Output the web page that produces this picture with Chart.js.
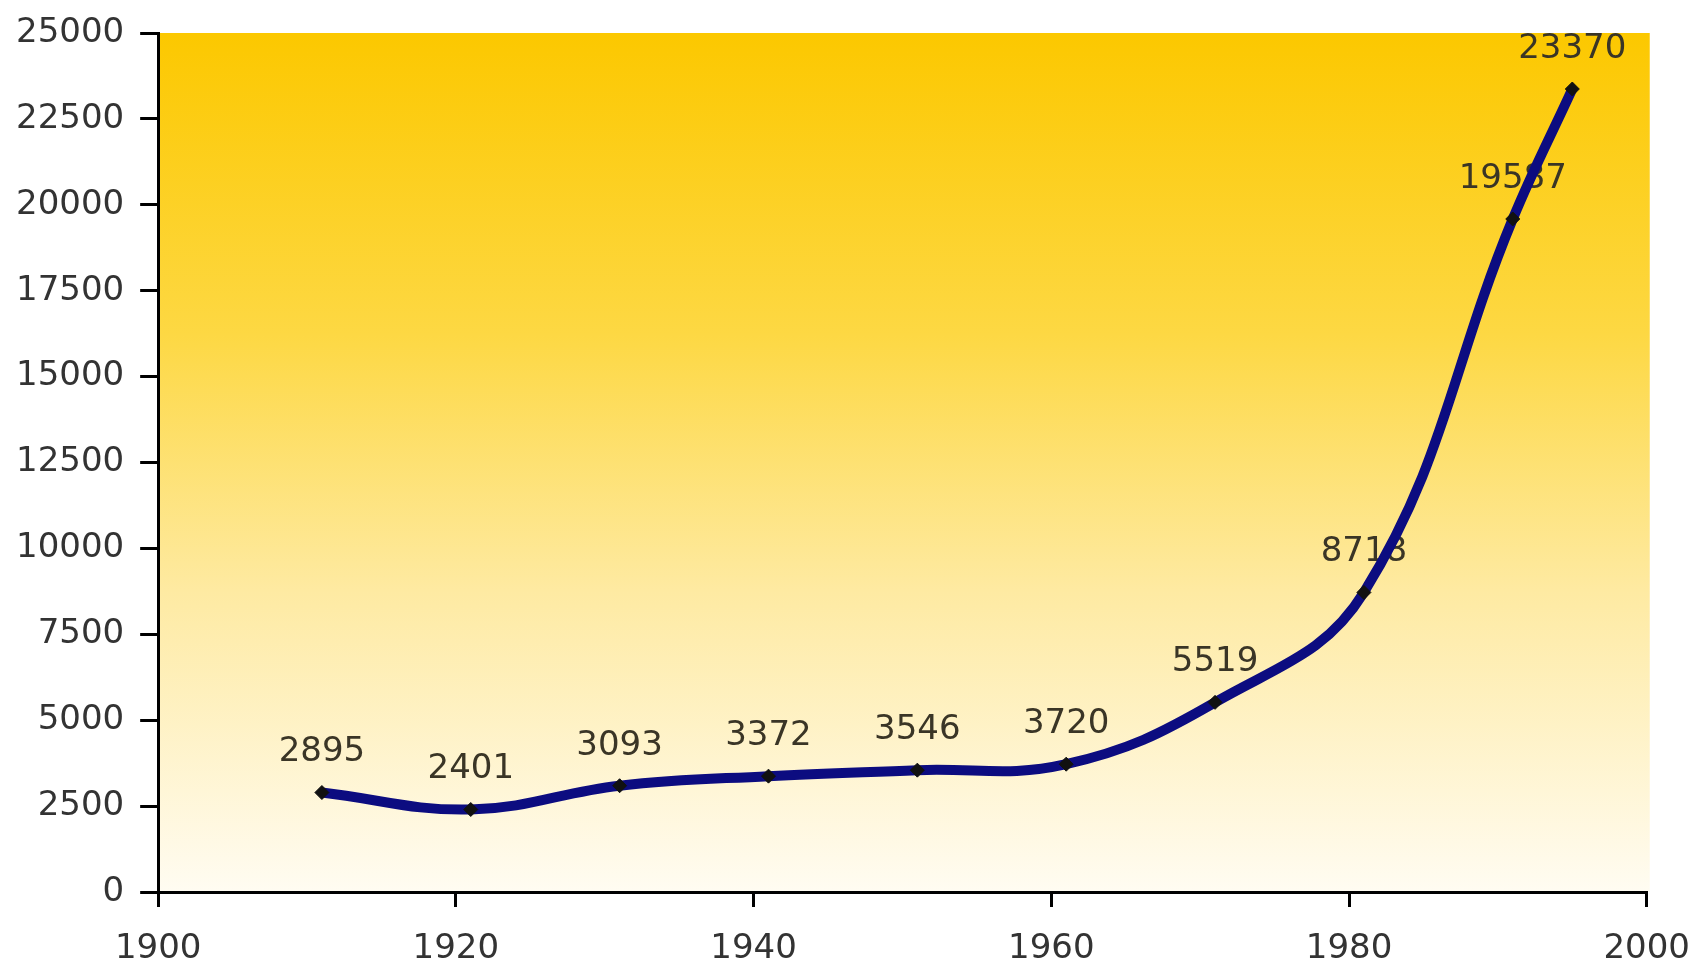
<!DOCTYPE html>
<html lang="en">
<head>
  <meta charset="UTF-8">
  <title>Population 1911-1995</title>
  <script src="https://cdn.jsdelivr.net/npm/chart.js"></script>
  <style>
    html, body { margin: 0; padding: 0; background: #fff; overflow: hidden; }
    /* a bit wider/taller than the window so the last x label gets cut like in the original */
    #wrap { width: 1715px; height: 992px; }
  </style>
</head>
<body>
<div id="wrap">
  <canvas id="popChart"></canvas>
</div>

<script>
  // values
  const years = [1911, 1921, 1931, 1941, 1951, 1961, 1971, 1981, 1991, 1995];
  const population = [2895, 2401, 3093, 3372, 3546, 3720, 5519, 8718, 19587, 23370];

  const FONT = "'DejaVu Sans', Verdana, sans-serif";

  // yellow gradient behind the plot
  const bgPlugin = {
    id: 'bgGradient',
    beforeDraw(chart) {
      const { ctx, chartArea: a } = chart;
      const g = ctx.createLinearGradient(0, a.top, 0, a.bottom);
      g.addColorStop(0, '#fcc800');
      g.addColorStop(0.35, '#fdd843');
      g.addColorStop(0.65, '#feeaa2');
      g.addColorStop(1, '#fffcf2');
      ctx.save();
      ctx.fillStyle = g;
      ctx.fillRect(a.left, a.top, a.right - a.left + 3, a.bottom - a.top);
      ctx.restore();
    }
  };

  // value labels above each point, under the line
  const labelPlugin = {
    id: 'valueLabels',
    beforeDatasetsDraw(chart) {
      const { ctx } = chart;
      const meta = chart.getDatasetMeta(0);
      ctx.save();
      ctx.font = '34px ' + FONT;
      ctx.fillStyle = '#3a3526';
      ctx.textAlign = 'center';
      ctx.textBaseline = 'middle';
      meta.data.forEach((pt, i) => {
        ctx.fillText(String(population[i]), pt.x, pt.y - 40);
      });
      ctx.restore();
    }
  };

  const ctx = document.getElementById('popChart').getContext('2d');

  const popChart = new Chart(ctx, {
    type: 'line',
    data: {
      datasets: [
        {
          data: years.map((y, i) => ({ x: y, y: population[i] })),
          borderColor: '#0c0c80',
          borderWidth: 10,
          tension: 0.4,
          fill: false,
          pointStyle: 'rectRot',
          pointRadius: 7,
          pointBackgroundColor: '#111',
          pointBorderColor: '#111',
          pointBorderWidth: 1
        }
      ]
    },
    options: {
      responsive: true,
      maintainAspectRatio: false,
      animation: false,
      layout: {
        padding: { top: 12, left: 0, right: 0, bottom: 1 }
      },
      plugins: {
        legend: { display: false },
        tooltip: { enabled: false }
      },
      scales: {
        x: {
          type: 'linear',
          min: 1900,
          max: 2000,
          border: { color: '#000', width: 3 },
          grid: { drawOnChartArea: false, tickLength: 15, color: '#000', lineWidth: 3 },
          ticks: {
            stepSize: 20,
            padding: 25,
            color: '#333',
            font: { family: FONT, size: 34, lineHeight: 1 },
            callback: v => String(v)
          }
        },
        y: {
          min: 0,
          max: 25000,
          border: { color: '#000', width: 3 },
          grid: { drawOnChartArea: false, tickLength: 18, color: '#000', lineWidth: 3 },
          ticks: {
            stepSize: 2500,
            padding: 16,
            color: '#333',
            font: { family: FONT, size: 34, lineHeight: 1 },
            callback: v => String(v)
          }
        }
      }
    },
    plugins: [bgPlugin, labelPlugin]
  });
</script>
</body>
</html>
